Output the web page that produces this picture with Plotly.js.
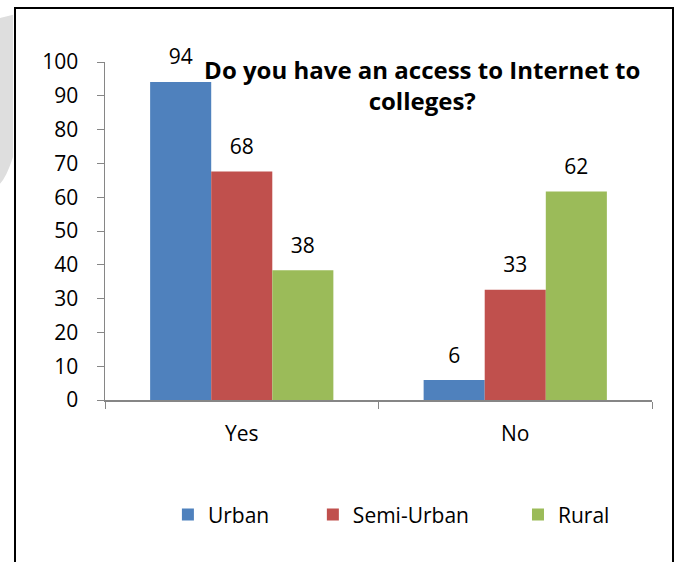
<!DOCTYPE html>
<html>
<head>
<meta charset="utf-8">
<script src="https://cdn.plot.ly/plotly-3.0.1.min.js"></script>
<style>
  html, body { margin: 0; padding: 0; background: #ffffff; }
  #chart { width: 680px; height: 562px; }
</style>
</head>
<body>
<div id="chart"></div>
<script>
const categories = ["Yes", "No"];
const seriesNames = ["Urban", "Semi-Urban", "Rural"];
const urban = [94.1, 5.9];
const semiUrban = [67.6, 32.6];
const rural = [38.4, 61.7];
const yTickValues = [0, 10, 20, 30, 40, 50, 60, 70, 80, 90, 100];
const titleText = "Do you have an access to Internet to<br>colleges?";

const colors = ["#4F81BD", "#C0504D", "#9BBB59"];
const seriesValues = [urban, semiUrban, rural];
const legendIds = ["legend", "legend2", "legend3"];
const FONT = "Open Sans, Liberation Sans, sans-serif";

const barTraces = seriesValues.map((vals, i) => ({
  type: "bar",
  name: seriesNames[i],
  x: categories,
  y: vals,
  marker: { color: colors[i], line: { width: 0 } },
  hoverinfo: "x+y+name",
  legend: legendIds[i]
}));

// value labels, grouped the same way as the bars
const labelTraces = seriesValues.map((vals, i) => ({
  type: "scatter",
  mode: "markers+text",
  name: seriesNames[i] + " label",
  x: categories,
  y: vals,
  text: vals.map(v => Math.round(v).toString()),
  textposition: "top center",
  textfont: { family: FONT, size: 21, color: "#000000" },
  marker: { size: 18, color: "rgba(0,0,0,0)" },
  cliponaxis: false,
  showlegend: false,
  hoverinfo: "skip"
}));

const legendBase = {
  orientation: "h",
  yanchor: "middle",
  y: -0.34,
  xanchor: "left",
  font: { family: FONT, size: 21, color: "#000000" },
  itemwidth: 30,
  bgcolor: "rgba(0,0,0,0)"
};

const layout = {
  width: 680,
  height: 562,
  margin: { l: 105, r: 28, t: 62, b: 162 },
  paper_bgcolor: "#ffffff",
  plot_bgcolor: "rgba(0,0,0,0)",
  barmode: "group",
  bargap: 0.33,
  bargroupgap: 0,
  scattermode: "group",
  scattergap: 0.33,
  title: {
    text: titleText,
    font: { family: FONT, size: 24, color: "#000000", weight: "bold" },
    x: 0.58,
    xref: "paper",
    xanchor: "center",
    y: 1 - 79 / 562,
    yref: "container",
    yanchor: "middle"
  },
  xaxis: {
    type: "category",
    showline: true,
    linecolor: "#868686",
    linewidth: 1.5,
    ticks: "outside",
    tickson: "boundaries",
    ticklen: 7,
    tickcolor: "#868686",
    ticklabelstandoff: 14,
    tickfont: { family: FONT, size: 21, color: "#000000" },
    showgrid: false,
    zeroline: false
  },
  yaxis: {
    range: [0, 100],
    tickvals: yTickValues,
    showline: true,
    linecolor: "#868686",
    linewidth: 1.5,
    ticks: "outside",
    ticklen: 7,
    tickcolor: "#868686",
    ticklabelstandoff: 14,
    tickfont: { family: FONT, size: 21, color: "#000000" },
    showgrid: false,
    zeroline: false
  },
  legend: Object.assign({}, legendBase, { x: 0.115 }),
  legend2: Object.assign({}, legendBase, { x: 0.38 }),
  legend3: Object.assign({}, legendBase, { x: 0.755 }),
  shapes: [
    {
      type: "path",
      xref: "paper", yref: "paper",
      path: "M -0.192 1.13 L -0.168 1.14 L -0.168 0.72 Q -0.18 0.66 -0.192 0.64 Z",
      fillcolor: "#dedede", line: { width: 0 }, layer: "below"
    },
    {
      type: "rect",
      xref: "paper", yref: "paper",
      x0: (15 - 105) / 547, x1: (673 - 105) / 547,
      y0: (400 - 600) / 338, y1: (400 - 8) / 338,
      line: { color: "#000000", width: 2 },
      fillcolor: "rgba(0,0,0,0)",
      layer: "above"
    }
  ],
  showlegend: true
};

Plotly.newPlot("chart", barTraces.concat(labelTraces), layout, { displayModeBar: false, staticPlot: true });
</script>
</body>
</html>
